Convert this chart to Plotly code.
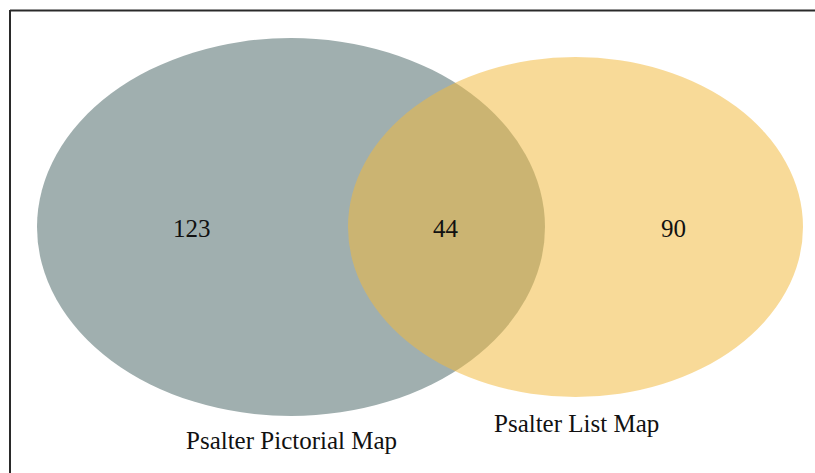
import plotly.graph_objects as go

set_names = ["Psalter Pictorial Map", "Psalter List Map"]
region_labels = ["only_pictorial", "both", "only_list"]
region_counts = [123, 44, 90]

W, H = 815, 473
fig = go.Figure()

# ellipse geometry (pixel space)
left_ell = dict(x0=37, x1=545, y0=38, y1=416)
right_ell = dict(x0=348, x1=803, y0=57, y1=397)

shapes = [
    dict(type="line", xref="x", yref="y", x0=10, y0=10.5, x1=W + 50, y1=10.5,
         line=dict(color="#2a2a2a", width=2), layer="above"),
    dict(type="line", xref="x", yref="y", x0=10, y0=10, x1=10, y1=H + 50,
         line=dict(color="#2a2a2a", width=2), layer="above"),
    dict(type="circle", xref="x", yref="y", **left_ell,
         fillcolor="rgb(160,175,175)", line=dict(width=0), layer="below"),
    dict(type="circle", xref="x", yref="y", **right_ell,
         fillcolor="rgb(242,185,61)", opacity=0.53, line=dict(width=0), layer="below"),
]

font = dict(family="Liberation Serif, Times New Roman, serif", size=25, color="#111111")
count_pos = [(192, 228), (446, 228), (673, 228)]
annotations = []
for (x, y), v in zip(count_pos, region_counts):
    annotations.append(dict(x=x, y=y, xref="x", yref="y", text=str(v), showarrow=False, font=font))
name_pos = [(291, 440), (576, 423)]
for (x, y), n in zip(name_pos, set_names):
    annotations.append(dict(x=x, y=y, xref="x", yref="y", text=n, showarrow=False, font=font))

fig.update_layout(
    width=W, height=H,
    margin=dict(l=0, r=0, t=0, b=0),
    paper_bgcolor="white", plot_bgcolor="white",
    xaxis=dict(range=[0, W], visible=False, fixedrange=True),
    yaxis=dict(range=[H, 0], visible=False, fixedrange=True),
    shapes=shapes, annotations=annotations, showlegend=False,
)
fig.write_html("out.html", config={"displayModeBar": False},
               post_script="document.body.style.margin='0';document.body.style.overflow='hidden';")
